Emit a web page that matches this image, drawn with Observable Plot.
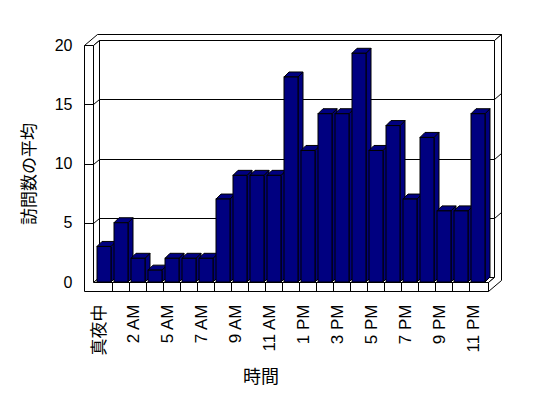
<!DOCTYPE html>
<html><head><meta charset="utf-8">
<script src="https://cdn.jsdelivr.net/npm/d3@7"></script>
<script src="https://cdn.jsdelivr.net/npm/@observablehq/plot@0.6"></script>
<style>html,body{margin:0;padding:0;background:#fff;} svg{display:block}</style>
</head><body><div id="chart"></div>
<script>
const hours = ["真夜中","1 AM","2 AM","4 AM","5 AM","6 AM","7 AM","8 AM","9 AM","10 AM","11 AM","正午",
  "1 PM","2 PM","3 PM","4 PM","5 PM","6 PM","7 PM","8 PM","9 PM","10 PM","11 PM"];
const visits = [3, 5, 2, 1, 2, 2, 2, 7, 9, 9, 9, 17.3, 11.1, 14.2, 14.2, 19.3, 11.1, 13.2, 7, 12.2, 6, 6, 14.2];
const yTicks = [0, 5, 10, 15, 20];
const gridValues = [5, 10, 15];
const xTickLabels = hours.filter((d, i) => i % 2 === 0);
const xLabel = "時間";
const yLabel = "訪問数の平均";

const data = hours.map((h, i) => ({hour: h, visits: visits[i]}));
const FONT = '"Liberation Sans", "Noto Sans CJK JP", sans-serif';
const NAVY = "#000080";

const svg = Plot.plot({
  width: 548, height: 398,
  marginLeft: 93, marginRight: 60, marginTop: 45, marginBottom: 116,
  style: {fontFamily: FONT, fontSize: "16px", background: "white", color: "black", overflow: "visible"},
  x: {type: "band", domain: hours, padding: 0, label: null, tickSize: 0, tickPadding: 22, tickRotate: -90, ticks: xTickLabels},
  y: {domain: [0, 20], ticks: yTicks, label: null, tickSize: 0, tickPadding: 21},
  marks: [
    Plot.barY(data, {x: "hour", y: "visits", fill: NAVY, stroke: "black", insetLeft: 2, insetRight: 1}),
    Plot.text([yLabel], {text: d => d, frameAnchor: "left", textAnchor: "middle", lineAnchor: "middle", rotate: -90, dx: -64, dy: 10, fontSize: 17}),
    Plot.text([xLabel], {text: d => d, frameAnchor: "bottom", textAnchor: "middle", lineAnchor: "middle", dx: -30, dy: 95, fontSize: 18})
  ]
});
document.getElementById("chart").appendChild(svg);

// shift / size the rotated category labels
const xTickG = svg.querySelector('g[aria-label="x-axis tick label"]') || svg.querySelector('g[aria-label="x-axis"]');
if (xTickG) {
  xTickG.setAttribute("transform", "translate(-4,0) " + (xTickG.getAttribute("transform") || ""));
  xTickG.setAttribute("font-size", "17");
  xTickG.style.fontSize = "17px";
}

// 3D box decoration built from the plot's own scales
const xs = svg.scale("x"), ys = svg.scale("y");
const yf = v => ys.apply(v);
const X0 = Math.round(Math.min(...xs.range)), X1 = Math.round(Math.max(...xs.range));
const Y0 = Math.round(yf(0)), YT = Math.round(yf(20));
const Dx = 6, Dy = -5, Tx = 7, Ty = -6, W = 9, F = 9;
const L = X0 - W;
const ns = "http://www.w3.org/2000/svg";
function poly(parent, pts, fill, before) {
  const p = document.createElementNS(ns, "polygon");
  p.setAttribute("points", pts.map(q => q.join(",")).join(" "));
  p.setAttribute("fill", fill);
  p.setAttribute("stroke", "black");
  p.setAttribute("stroke-linejoin", "miter");
  if (before) parent.insertBefore(p, before); else parent.appendChild(p);
  return p;
}
function path(parent, d) {
  const p = document.createElementNS(ns, "path");
  p.setAttribute("d", d);
  p.setAttribute("fill", "none");
  p.setAttribute("stroke", "black");
  parent.appendChild(p);
}
const barG = svg.querySelector('g[aria-label="bar"]');
const wall = document.createElementNS(ns, "g");
wall.setAttribute("transform", "translate(0.5,0.5)");
barG.parentNode.insertBefore(wall, barG);

// top strip of walls
poly(wall, [[L, YT], [X0, YT], [X0 + Dx, YT + Dy], [X1 + Dx, YT + Dy], [X1 + Dx + Tx, YT + Dy + Ty], [L + Dx + Tx, YT + Dy + Ty]], "white");
// back wall face
poly(wall, [[X0 + Dx, YT + Dy], [X1 + Dx, YT + Dy], [X1 + Dx, Y0 + Dy], [X0 + Dx, Y0 + Dy]], "white");
// left wall inner face
poly(wall, [[X0, YT], [X0 + Dx, YT + Dy], [X0 + Dx, Y0 + Dy], [X0, Y0]], "white");
// floor top
poly(wall, [[X0, Y0], [X1, Y0], [X1 + Dx, Y0 + Dy], [X0 + Dx, Y0 + Dy]], "white");
// right side
poly(wall, [[X1 + Dx, YT + Dy], [X1 + Dx + Tx, YT + Dy + Ty], [X1 + Dx + Tx, Y0 + F + Dy + Ty], [X1, Y0 + F], [X1, Y0], [X1 + Dx, Y0 + Dy]], "white");
// front L (left wall face + floor face)
poly(wall, [[L, YT], [X0, YT], [X0, Y0], [X1, Y0], [X1, Y0 + F], [L, Y0 + F]], "white");
// gridlines
for (const v of gridValues) {
  const y = Math.round(yf(v));
  path(wall, `M${L},${y}H${X0}L${X0 + Dx},${y + Dy}H${X1 + Dx}L${X1 + Dx + Tx},${y + Dy + Ty}`);
}
// category ticks on floor front
hours.forEach((h, i) => {
  if (i === 0) return;
  const x = Math.round(xs.apply(h));
  path(wall, `M${x},${Y0}V${Y0 + F}`);
});

// bar top and side faces
const bd = 5;
barG.querySelectorAll("rect").forEach(r => {
  const x = +r.getAttribute("x"), y = +r.getAttribute("y");
  const w = +r.getAttribute("width"), h = +r.getAttribute("height");
  const x2 = x + w, yb = y + h;
  poly(barG, [[x2, y], [x2 + bd, y - bd], [x2 + bd, yb - bd], [x2, yb]], NAVY, r);
  poly(barG, [[x, y], [x2, y], [x2 + bd, y - bd], [x + bd, y - bd]], NAVY, r);
});
</script>
</body></html>
